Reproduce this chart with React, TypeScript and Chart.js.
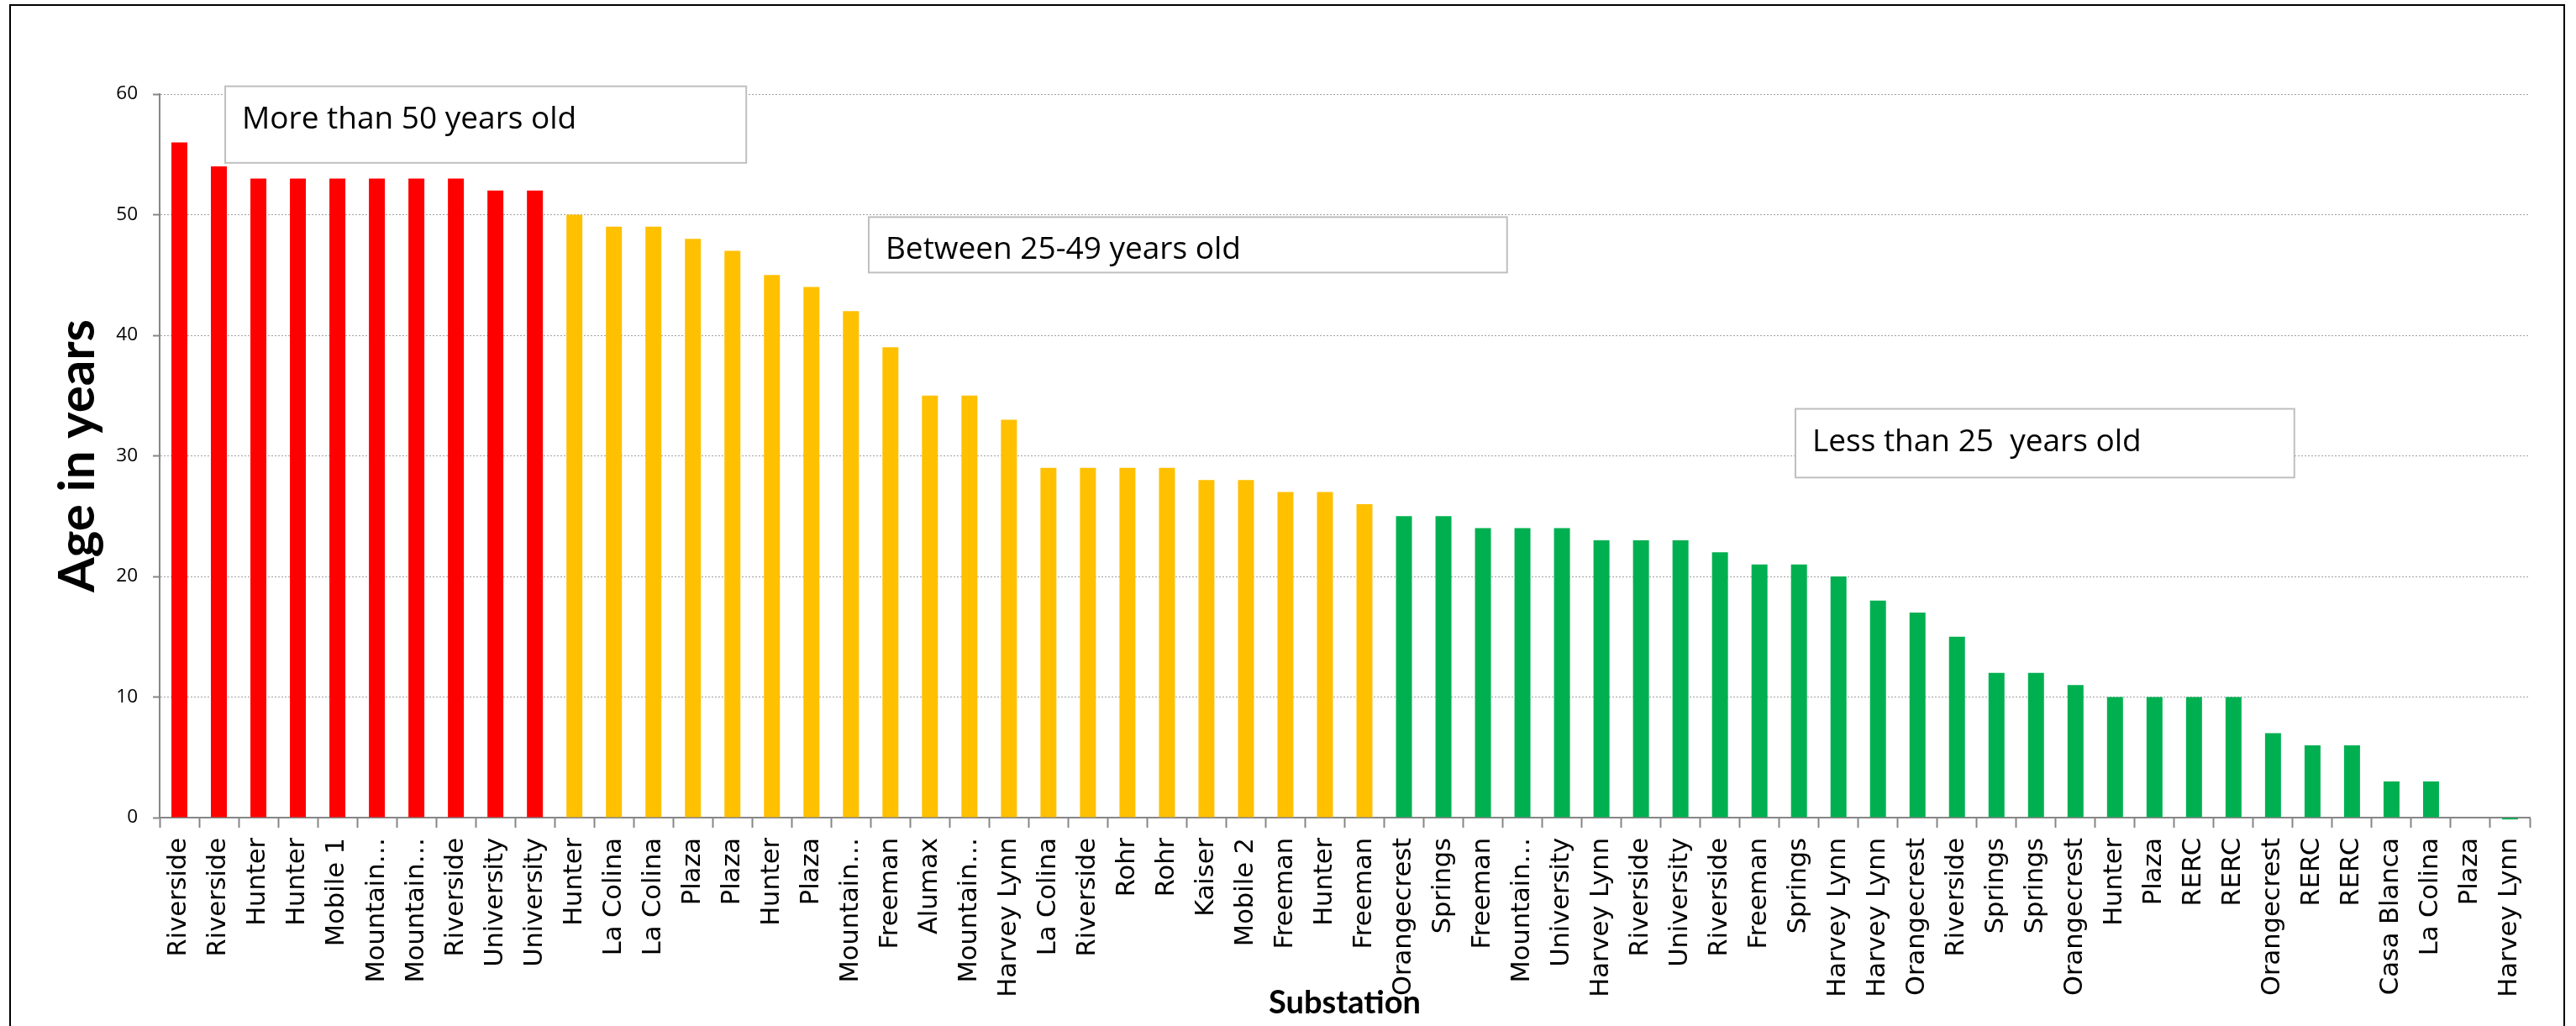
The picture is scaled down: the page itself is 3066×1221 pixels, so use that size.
import React, { useEffect, useRef } from 'react';
import { Chart, registerables } from 'chart.js';

Chart.register(...registerables);

// ---- data ----
const SUBSTATIONS = [
  'Riverside', 'Riverside', 'Hunter', 'Hunter', 'Mobile 1', 'Mountain…', 'Mountain…', 'Riverside', 'University', 'University',
  'Hunter', 'La Colina', 'La Colina', 'Plaza', 'Plaza', 'Hunter', 'Plaza', 'Mountain…', 'Freeman', 'Alumax',
  'Mountain…', 'Harvey Lynn', 'La Colina', 'Riverside', 'Rohr', 'Rohr', 'Kaiser', 'Mobile 2', 'Freeman', 'Hunter',
  'Freeman', 'Orangecrest', 'Springs', 'Freeman', 'Mountain…', 'University', 'Harvey Lynn', 'Riverside', 'University', 'Riverside',
  'Freeman', 'Springs', 'Harvey Lynn', 'Harvey Lynn', 'Orangecrest', 'Riverside', 'Springs', 'Springs', 'Orangecrest', 'Hunter',
  'Plaza', 'RERC', 'RERC', 'Orangecrest', 'RERC', 'RERC', 'Casa Blanca', 'La Colina', 'Plaza', 'Harvey Lynn',
];

const AGES = [
  56, 54, 53, 53, 53, 53, 53, 53, 52, 52,
  50, 49, 49, 48, 47, 45, 44, 42, 39, 35,
  35, 33, 29, 29, 29, 29, 28, 28, 27, 27,
  26, 25, 25, 24, 24, 24, 23, 23, 23, 22,
  21, 21, 20, 18, 17, 15, 12, 12, 11, 10,
  10, 10, 10, 7, 6, 6, 3, 3, 0, -0.15,
];

const AGE_GROUP = [
  'old', 'old', 'old', 'old', 'old', 'old', 'old', 'old', 'old', 'old',
  'mid', 'mid', 'mid', 'mid', 'mid', 'mid', 'mid', 'mid', 'mid', 'mid',
  'mid', 'mid', 'mid', 'mid', 'mid', 'mid', 'mid', 'mid', 'mid', 'mid',
  'mid', 'new', 'new', 'new', 'new', 'new', 'new', 'new', 'new', 'new',
  'new', 'new', 'new', 'new', 'new', 'new', 'new', 'new', 'new', 'new',
  'new', 'new', 'new', 'new', 'new', 'new', 'new', 'new', 'new', 'new',
];

const GROUP_COLORS: Record<string, string> = {
  old: '#FF0000',
  mid: '#FFC000',
  new: '#00B050',
};

const Y_MIN = 0;
const Y_MAX = 60;
const Y_STEP = 10;

const Y_TITLE = 'Age in years';
const X_TITLE = 'Substation';

// Annotation boxes (x in category units from the left edge of the axis, y in years)
const NOTE_TEXT = ['More than 50 years old', 'Between 25-49 years old', 'Less than 25  years old'];
const NOTE_X0 = [1.66, 17.95, 41.41];
const NOTE_X1 = [14.85, 34.11, 54.04];
const NOTE_Y_TOP = [60.65, 49.8, 33.9];
const NOTE_Y_BOTTOM = [54.3, 45.2, 28.2];

const W = 3066;
const H = 1221;

const notesPlugin = {
  id: 'notes',
  afterDatasetsDraw(chart: any) {
    const { ctx } = chart;
    const xs = chart.scales.x;
    const ys = chart.scales.y;
    ctx.save();
    for (let i = 0; i < NOTE_TEXT.length; i++) {
      const x0 = xs.getPixelForValue(NOTE_X0[i] - 0.5);
      const x1 = xs.getPixelForValue(NOTE_X1[i] - 0.5);
      const y0 = ys.getPixelForValue(NOTE_Y_TOP[i]);
      const y1 = ys.getPixelForValue(NOTE_Y_BOTTOM[i]);
      ctx.fillStyle = '#ffffff';
      ctx.fillRect(x0, y0, x1 - x0, y1 - y0);
      ctx.lineWidth = 2;
      ctx.strokeStyle = '#BFBFBF';
      ctx.strokeRect(x0, y0, x1 - x0, y1 - y0);
      ctx.fillStyle = '#000000';
      ctx.font = '37px "Open Sans", sans-serif';
      ctx.textAlign = 'left';
      ctx.textBaseline = 'alphabetic';
      ctx.fillText(NOTE_TEXT[i], x0 + 20, y0 + 50);
    }
    ctx.restore();
  },
};

export default function App() {
  const canvasRef = useRef<HTMLCanvasElement | null>(null);

  useEffect(() => {
    const canvas = canvasRef.current;
    if (!canvas) return;
    const chart = new Chart(canvas, {
      type: 'bar',
      data: {
        labels: SUBSTATIONS,
        datasets: [
          {
            data: AGES,
            backgroundColor: AGE_GROUP.map((g) => GROUP_COLORS[g]),
            borderWidth: 0,
            barPercentage: 0.404,
            categoryPercentage: 1,
            clip: false as any,
          },
        ],
      },
      options: {
        animation: false,
        responsive: false,
        devicePixelRatio: 1,
        layout: { padding: { left: 0, top: 112, right: 55, bottom: 0 } },
        plugins: {
          legend: { display: false },
          tooltip: { enabled: false },
        },
        scales: {
          x: {
            afterFit: (scale: any) => {
              scale.height = 248;
            },
            grid: {
              display: true,
              drawOnChartArea: false,
              drawTicks: true,
              tickLength: 12,
              tickColor: '#868686',
              tickWidth: 2,
              offset: true,
            },
            border: { display: true, color: '#868686', width: 2 },
            ticks: {
              autoSkip: false,
              minRotation: 90,
              maxRotation: 90,
              padding: 12,
              color: '#000000',
              font: { family: '"DejaVu Sans", sans-serif', size: 30.5 },
            },
            title: {
              display: true,
              text: X_TITLE,
              color: '#000000',
              font: { family: 'Lato, "Open Sans", sans-serif', size: 38, weight: 'bold' },
              padding: { top: 0, bottom: 4 },
            },
          },
          y: {
            min: Y_MIN,
            max: Y_MAX,
            afterFit: (scale: any) => {
              scale.width = 190;
            },
            grid: {
              color: '#A0A0A0',
              lineWidth: 1,
              drawTicks: true,
              tickLength: 8,
              tickColor: '#868686',
              tickWidth: 2,
            },
            border: { display: true, color: '#868686', width: 2, dash: [2, 2] },
            ticks: {
              stepSize: Y_STEP,
              padding: 18,
              color: '#000000',
              font: { family: '"Open Sans", sans-serif', size: 22.5 },
            },
            title: {
              display: true,
              text: Y_TITLE,
              color: '#000000',
              font: { family: 'Lato, "Open Sans", sans-serif', size: 60, weight: 'bold' },
              padding: { top: 57, bottom: 0 },
            },
          },
        },
      },
      plugins: [notesPlugin],
    } as any);
    return () => {
      chart.destroy();
    };
  }, []);

  return (
    <div
      style={{
        position: 'fixed',
        left: 0,
        top: 0,
        width: W,
        height: H,
        overflow: 'hidden',
        background: '#ffffff',
      }}
    >
      <div
        style={{
          position: 'absolute',
          left: 11,
          top: 5,
          width: 3053 - 11,
          height: 1400,
          border: '2px solid #000000',
          boxSizing: 'border-box',
        }}
      />
      <canvas
        ref={canvasRef}
        width={W}
        height={H}
        style={{ position: 'absolute', left: 0, top: 0, width: W, height: H }}
      />
    </div>
  );
}
